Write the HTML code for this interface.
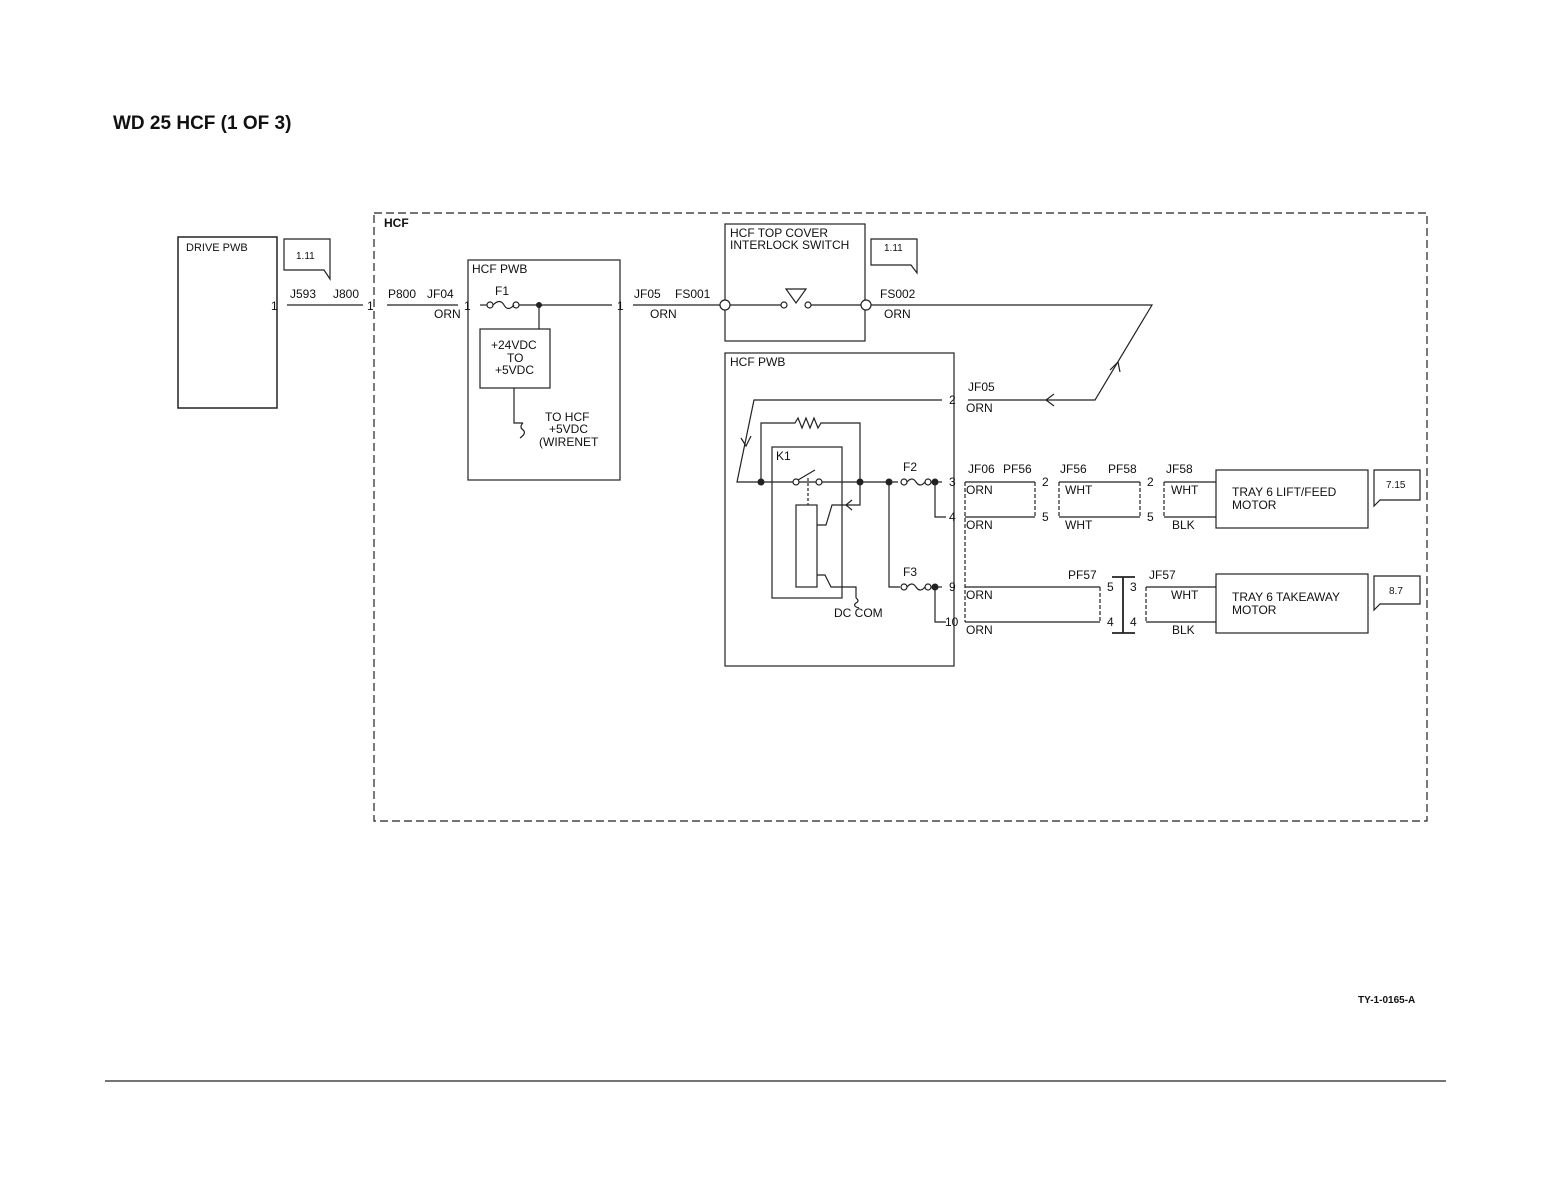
<!DOCTYPE html>
<html><head><meta charset="utf-8"><style>
html,body{margin:0;padding:0;background:#fff}
svg{display:block}
text{font-family:"Liberation Sans",Arial,sans-serif;font-size:12px;fill:#111}
</style></head><body>
<svg width="1552" height="1190" viewBox="0 0 1552 1190" xmlns="http://www.w3.org/2000/svg">
<g stroke="#222" stroke-width="1.2" fill="none">
<!-- HCF dashed box -->
<rect x="374" y="213" width="1053" height="608" stroke-dasharray="8,4"/>
<!-- Drive PWB -->
<rect x="178" y="237" width="99" height="171" stroke-width="1.5"/>
<path d="M284 239 H330 V279 L324 270 H284 Z"/>
<!-- main line -->
<line x1="287" y1="305" x2="363" y2="305"/>
<line x1="387" y1="305" x2="458" y2="305"/>
<!-- HCF PWB upper -->
<rect x="468" y="260" width="152" height="220"/>
<line x1="480" y1="305" x2="487" y2="305"/>
<circle cx="490" cy="305" r="3"/>
<path d="M493 305 Q500 298 504 305 Q508 312 514 305"/>
<circle cx="516" cy="305" r="3"/>
<line x1="519" y1="305" x2="612" y2="305"/>
<line x1="539" y1="305" x2="539" y2="329"/>
<rect x="480" y="329" width="70" height="59"/>
<path d="M514 388 V423 H523 M523 423 q-4 4 0 7 q4 3 -3 8"/>
<line x1="633" y1="305" x2="720" y2="305"/>
<!-- top cover switch -->
<rect x="725" y="224" width="140" height="117"/>
<circle cx="725" cy="305" r="5" fill="#fff"/>
<circle cx="866" cy="305" r="5" fill="#fff"/>
<line x1="730" y1="305" x2="781" y2="305"/>
<circle cx="784" cy="305" r="3"/>
<circle cx="808" cy="305" r="3"/>
<path d="M786 289 H806 L796 303 Z"/>
<line x1="811" y1="305" x2="861" y2="305"/>
<path d="M871 305 H1152 L1095 400 H968"/>
<path d="M1110 370 L1118 362 L1120 372"/>
<path d="M1054 394 L1046 400 L1054 406"/>
<path d="M871 239 H917 V273 L911 265 H871 Z"/>
<!-- lower HCF PWB -->
<rect x="725" y="353" width="229" height="313"/>
<path d="M942 400 H754 L737 482 H935"/>
<path d="M741 438 L746 446 L751 436"/>
<path d="M761 482 V423 H795 l3 -5 l4 10 l4 -10 l4 10 l4 -10 l4 10 l3 -5 H860 V505 H832 L826 525 H817"/>
<path d="M852 500 L846 505 L852 510"/>
<rect x="772" y="447" width="70" height="151"/>
<circle cx="796" cy="482" r="3" fill="#fff"/>
<circle cx="819" cy="482" r="3" fill="#fff"/>
<line x1="798" y1="480" x2="815" y2="470"/>
<line x1="808" y1="478" x2="808" y2="505" stroke-dasharray="3,2"/>
<rect x="796" y="505" width="21" height="82"/>
<path d="M817 575 H825 L831 587 H856 V598 M856 598 q4 3 0 5 q-4 3 3 5"/>
<path d="M889 482 V587 H900"/>
<rect x="898" y="476" width="36" height="12" fill="#fff" stroke="none"/>
<circle cx="904" cy="482" r="3"/>
<path d="M907 482 Q912 476 916 482 Q920 488 925 482"/>
<circle cx="928" cy="482" r="3"/>
<circle cx="904" cy="587" r="3"/>
<path d="M907 587 Q912 581 916 587 Q920 593 925 587"/>
<circle cx="928" cy="587" r="3"/>
<line x1="931" y1="482" x2="942" y2="482"/>
<line x1="931" y1="587" x2="942" y2="587"/>
<path d="M935 482 V517 H946"/>
<path d="M935 587 V622 H946"/>
<!-- connectors -->
<line x1="965" y1="482" x2="965" y2="622" stroke-dasharray="4,2"/>
<path d="M965 482 H1035 M965 517 H1035"/>
<line x1="1035" y1="482" x2="1035" y2="517" stroke-dasharray="4,2"/>
<path d="M1059 482 H1140 M1059 517 H1140"/>
<line x1="1059" y1="482" x2="1059" y2="517" stroke-dasharray="4,2"/>
<line x1="1140" y1="482" x2="1140" y2="517" stroke-dasharray="4,2"/>
<path d="M1164 482 H1216 M1164 517 H1216"/>
<line x1="1164" y1="482" x2="1164" y2="517" stroke-dasharray="4,2"/>
<path d="M965 587 H1100 M965 622 H1100"/>
<line x1="1100" y1="587" x2="1100" y2="622" stroke-dasharray="4,2"/>
<path d="M1123 577 V633 M1112 577 H1135 M1112 633 H1135" stroke-width="1.8"/>
<path d="M1146 587 H1216 M1146 622 H1216"/>
<line x1="1146" y1="587" x2="1146" y2="622" stroke-dasharray="4,2"/>
<rect x="1216" y="470" width="152" height="58"/>
<rect x="1216" y="574" width="152" height="59"/>
<path d="M1374 470 H1420 V500 H1380 L1374 506 Z"/>
<path d="M1374 576 H1420 V604 H1380 L1374 610 Z"/>
<line x1="105" y1="1081" x2="1446" y2="1081"/>
</g>
<g fill="#222">
<circle cx="539" cy="305" r="3"/>
<circle cx="761" cy="482" r="3.5"/><circle cx="860" cy="482" r="3.5"/>
<circle cx="889" cy="482" r="3.5"/><circle cx="935" cy="482" r="3.5"/>
<circle cx="935" cy="587" r="3.5"/>
</g>
<text x="113" y="129" style="font-size:19px;font-weight:bold">WD 25 HCF (1 OF 3)</text>
<text x="384" y="227" style="font-weight:bold">HCF</text>
<text x="186" y="251" style="font-size:11px">DRIVE PWB</text>
<text x="296" y="259" style="font-size:10px">1.11</text>
<text x="271" y="310">1</text>
<text x="290" y="298">J593</text>
<text x="333" y="298">J800</text>
<text x="367" y="310">1</text>
<text x="388" y="298">P800</text>
<text x="427" y="298">JF04</text>
<text x="434" y="318">ORN</text>
<text x="464" y="310">1</text>
<text x="472" y="273">HCF PWB</text>
<text x="495" y="295">F1</text>
<text x="491" y="349" text-anchor="start">+24VDC</text>
<text x="507" y="362">TO</text>
<text x="495" y="374">+5VDC</text>
<text x="545" y="421">TO HCF</text>
<text x="549" y="433">+5VDC</text>
<text x="539" y="446">(WIRENET</text>
<text x="617" y="310">1</text>
<text x="634" y="298">JF05</text>
<text x="675" y="298">FS001</text>
<text x="650" y="318">ORN</text>
<text x="730" y="237">HCF TOP COVER</text>
<text x="730" y="249">INTERLOCK SWITCH</text>
<text x="884" y="251" style="font-size:10px">1.11</text>
<text x="880" y="298">FS002</text>
<text x="884" y="318">ORN</text>
<text x="730" y="366">HCF PWB</text>
<text x="968" y="391">JF05</text>
<text x="966" y="412">ORN</text>
<text x="949" y="404">2</text>
<text x="776" y="460">K1</text>
<text x="903" y="471">F2</text>
<text x="903" y="576">F3</text>
<text x="834" y="617">DC COM</text>
<text x="949" y="486">3</text>
<text x="949" y="521">4</text>
<text x="949" y="591">9</text>
<text x="945" y="626">10</text>
<text x="968" y="473">JF06</text>
<text x="1003" y="473">PF56</text>
<text x="1060" y="473">JF56</text>
<text x="1108" y="473">PF58</text>
<text x="1166" y="473">JF58</text>
<text x="966" y="494">ORN</text>
<text x="966" y="529">ORN</text>
<text x="1042" y="486">2</text><text x="1042" y="521">5</text>
<text x="1065" y="494">WHT</text><text x="1065" y="529">WHT</text>
<text x="1147" y="486">2</text><text x="1147" y="521">5</text>
<text x="1171" y="494">WHT</text><text x="1172" y="529">BLK</text>
<text x="1232" y="496">TRAY 6 LIFT/FEED</text>
<text x="1232" y="509">MOTOR</text>
<text x="1386" y="488" style="font-size:10px">7.15</text>
<text x="1068" y="579">PF57</text>
<text x="1149" y="579">JF57</text>
<text x="966" y="599">ORN</text>
<text x="966" y="634">ORN</text>
<text x="1107" y="591">5</text><text x="1107" y="626">4</text>
<text x="1130" y="591">3</text><text x="1130" y="626">4</text>
<text x="1171" y="599">WHT</text><text x="1172" y="634">BLK</text>
<text x="1232" y="601">TRAY 6 TAKEAWAY</text>
<text x="1232" y="614">MOTOR</text>
<text x="1389" y="594" style="font-size:10px">8.7</text>
<text x="1358" y="1003" style="font-size:10px;font-weight:bold">TY-1-0165-A</text>
</svg>
</body></html>
